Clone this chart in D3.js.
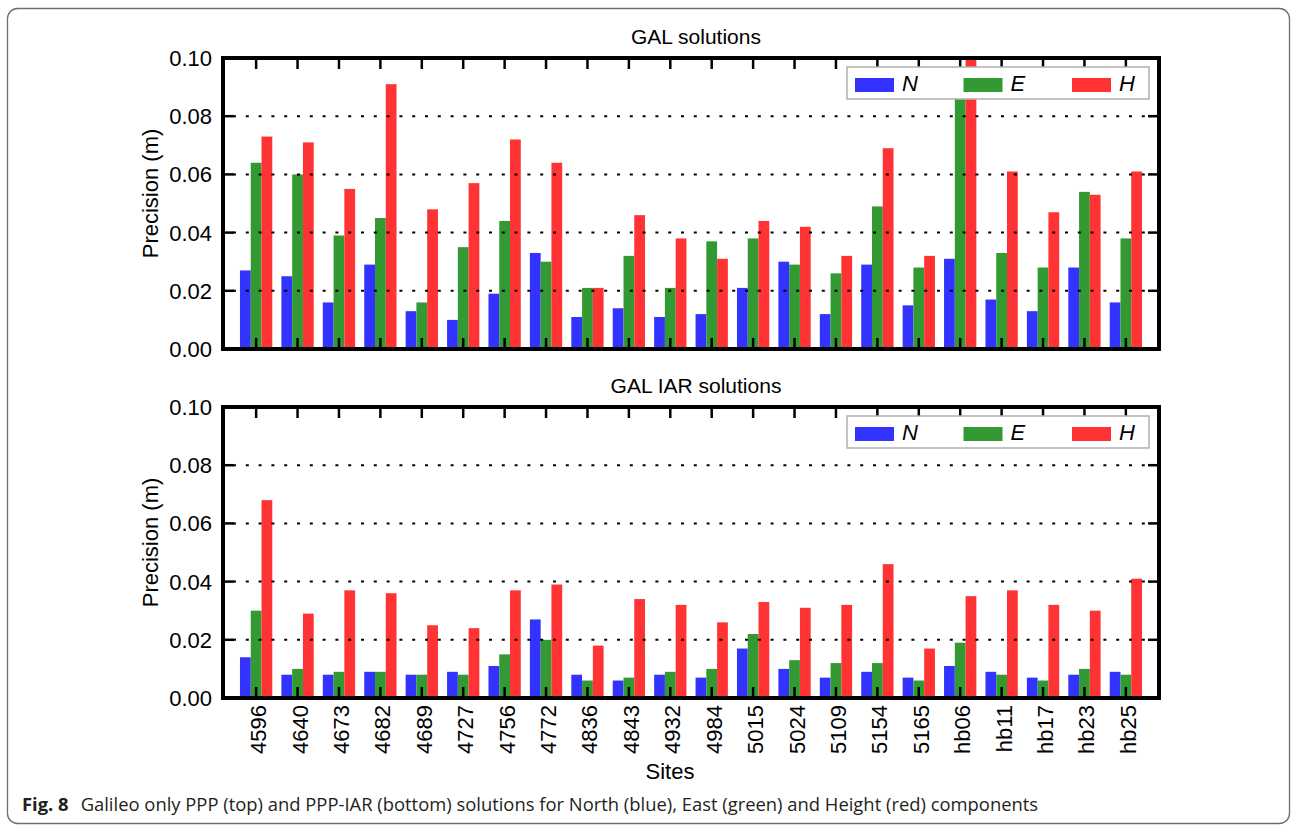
<!DOCTYPE html>
<html>
<head>
<meta charset="utf-8">
<script src="https://cdn.jsdelivr.net/npm/d3@7"></script>
<style>
  html, body { margin: 0; padding: 0; background: #fff; }
  svg text { font-family: "Liberation Sans", Arial, Helvetica, sans-serif; fill: #000; }
  svg text.caption { font-family: "Open Sans", "Noto Sans", sans-serif; fill: #231f20; }
</style>
</head>
<body>
<svg id="fig"></svg>
<script>
const sites = ["4596", "4640", "4673", "4682", "4689", "4727", "4756", "4772", "4836", "4843", "4932",
  "4984", "5015", "5024", "5109", "5154", "5165", "hb06", "hb11", "hb17", "hb23", "hb25"];

const components = ["N", "E", "H"];
const yTicks = [0, 0.02, 0.04, 0.06, 0.08, 0.1];

// GAL solutions (m)
const galN = [0.027, 0.025, 0.016, 0.029, 0.013, 0.010, 0.019, 0.033, 0.011, 0.014, 0.011,
  0.012, 0.021, 0.030, 0.012, 0.029, 0.015, 0.031, 0.017, 0.013, 0.028, 0.016];
const galE = [0.064, 0.060, 0.039, 0.045, 0.016, 0.035, 0.044, 0.030, 0.021, 0.032, 0.021,
  0.037, 0.038, 0.029, 0.026, 0.049, 0.028, 0.088, 0.033, 0.028, 0.054, 0.038];
const galH = [0.073, 0.071, 0.055, 0.091, 0.048, 0.057, 0.072, 0.064, 0.021, 0.046, 0.038,
  0.031, 0.044, 0.042, 0.032, 0.069, 0.032, 0.105, 0.061, 0.047, 0.053, 0.061];

// GAL IAR solutions (m)
const iarN = [0.014, 0.008, 0.008, 0.009, 0.008, 0.009, 0.011, 0.027, 0.008, 0.006, 0.008,
  0.007, 0.017, 0.010, 0.007, 0.009, 0.007, 0.011, 0.009, 0.007, 0.008, 0.009];
const iarE = [0.030, 0.010, 0.009, 0.009, 0.008, 0.008, 0.015, 0.020, 0.006, 0.007, 0.009,
  0.010, 0.022, 0.013, 0.012, 0.012, 0.006, 0.019, 0.008, 0.006, 0.010, 0.008];
const iarH = [0.068, 0.029, 0.037, 0.036, 0.025, 0.024, 0.037, 0.039, 0.018, 0.034, 0.032,
  0.026, 0.033, 0.031, 0.032, 0.046, 0.017, 0.035, 0.037, 0.032, 0.030, 0.041];

const colors = { N: "#3333ff", E: "#339933", H: "#ff3333" };

const width = 1292;
const height = 827;
const plotLeft = 223;
const plotRight = 1159;

function translate(x, y) {
  return `translate(${x},${y})`;
}

const svg = d3.select("svg#fig").attr("width", width).attr("height", height);

// rounded figure frame
svg.append("rect")
  .attr("x", 7.5).attr("y", 8.5)
  .attr("width", 1282).attr("height", 815)
  .attr("rx", 10)
  .attr("fill", "none")
  .attr("stroke", "#6d6d6d")
  .attr("stroke-width", 1.3);

const x = d3.scaleBand()
  .domain(sites)
  .range([plotLeft, plotRight])
  .paddingInner(0)
  .paddingOuter(0.3);

const barWidth = x.step() * 0.26;

function drawPanel(opts) {
  const { top, bottom, title, series, id, showLabels } = opts;
  const y = d3.scaleLinear().domain([0, 0.1]).range([bottom, top]);
  const g = svg.append("g");

  g.append("clipPath").attr("id", `clip-${id}`)
    .append("rect")
    .attr("x", plotLeft).attr("y", top)
    .attr("width", plotRight - plotLeft).attr("height", bottom - top);

  // bars
  const bars = g.append("g").attr("clip-path", `url(#clip-${id})`);
  components.forEach((c, k) => {
    bars.selectAll(`.bar-${c}`)
      .data(series[c])
      .join("rect")
      .attr("x", (d, i) => x(sites[i]) + x.bandwidth() / 2 + (k - 1.5) * barWidth)
      .attr("y", (d) => y(d))
      .attr("width", barWidth)
      .attr("height", (d) => y(0) - y(d))
      .attr("fill", colors[c]);
  });

  // dotted grid, drawn over bars
  g.append("g")
    .selectAll("line")
    .data(yTicks.filter((t) => t > 0 && t < 0.1))
    .join("line")
    .attr("x1", plotLeft + 10).attr("x2", plotRight - 10)
    .attr("y1", (d) => y(d)).attr("y2", (d) => y(d))
    .attr("stroke", "#000")
    .attr("stroke-width", 2)
    .attr("stroke-dasharray", "3 9.8");

  // y ticks on both sides, pointing inward
  const yt = g.append("g").attr("stroke", "#000").attr("stroke-width", 2.5);
  yTicks.forEach((t) => {
    yt.append("line").attr("x1", plotLeft).attr("x2", plotLeft + 11).attr("y1", y(t)).attr("y2", y(t));
    yt.append("line").attr("x1", plotRight - 11).attr("x2", plotRight).attr("y1", y(t)).attr("y2", y(t));
  });

  // x ticks top and bottom, pointing inward
  const xt = g.append("g").attr("stroke", "#000").attr("stroke-width", 2.5);
  sites.forEach((s) => {
    const cx = x(s) + x.bandwidth() / 2;
    xt.append("line").attr("x1", cx).attr("x2", cx).attr("y1", top).attr("y2", top + 11);
    xt.append("line").attr("x1", cx).attr("x2", cx).attr("y1", bottom - 11).attr("y2", bottom);
  });

  // frame
  g.append("rect")
    .attr("x", plotLeft).attr("y", top)
    .attr("width", plotRight - plotLeft).attr("height", bottom - top)
    .attr("fill", "none")
    .attr("stroke", "#000")
    .attr("stroke-width", 4);

  // y tick labels
  g.append("g")
    .selectAll("text")
    .data(yTicks)
    .join("text")
    .attr("x", 212)
    .attr("y", (d) => y(d))
    .attr("dy", "0.36em")
    .attr("text-anchor", "end")
    .style("font-size", "22px")
    .text((d) => d3.format(".2f")(d));

  // y axis title
  g.append("text")
    .attr("transform", translate(158, (top + bottom) / 2 - 10) + " rotate(-90)")
    .attr("text-anchor", "middle")
    .style("font-size", "22px")
    .text("Precision (m)");

  // panel title
  g.append("text")
    .attr("x", 696)
    .attr("y", top - 14)
    .attr("text-anchor", "middle")
    .style("font-size", "21px")
    .text(title);

  // legend
  const legend = g.append("g").attr("transform", translate(847, top + 9));
  legend.append("rect")
    .attr("width", 302).attr("height", 32)
    .attr("fill", "#fff")
    .attr("stroke", "#b0b0b0")
    .attr("stroke-width", 1.5);
  components.forEach((c, k) => {
    const lx = 8 + k * 108.5;
    legend.append("rect")
      .attr("x", lx).attr("y", 11)
      .attr("width", 39).attr("height", 14)
      .attr("fill", colors[c]);
    legend.append("text")
      .attr("x", lx + 47).attr("y", 24)
      .style("font-size", "22px")
      .style("font-style", "italic")
      .text(c);
  });

  if (showLabels) {
    g.append("g")
      .selectAll("text")
      .data(sites)
      .join("text")
      .attr("transform", (d) => translate(x(d) + x.bandwidth() / 2 + 10, bottom + 7) + " rotate(-90)")
      .attr("text-anchor", "end")
      .style("font-size", "22px")
      .text((d) => d);

    g.append("text")
      .attr("x", 670)
      .attr("y", 779)
      .attr("text-anchor", "middle")
      .style("font-size", "22px")
      .text("Sites");
  }
}

drawPanel({
  id: "gal",
  top: 58,
  bottom: 349,
  title: "GAL solutions",
  series: { N: galN, E: galE, H: galH },
  showLabels: false,
});

drawPanel({
  id: "iar",
  top: 407,
  bottom: 698,
  title: "GAL IAR solutions",
  series: { N: iarN, E: iarE, H: iarH },
  showLabels: true,
});

// caption
const caption = svg.append("text")
  .attr("class", "caption")
  .attr("x", 22)
  .attr("y", 811)
  .style("font-size", "18.4px");
caption.append("tspan").style("font-weight", "bold").text("Fig. 8");
caption.append("tspan")
  .attr("dx", 12)
  .text("Galileo only PPP (top) and PPP-IAR (bottom) solutions for North (blue), East (green) and Height (red) components");
</script>
</body>
</html>
